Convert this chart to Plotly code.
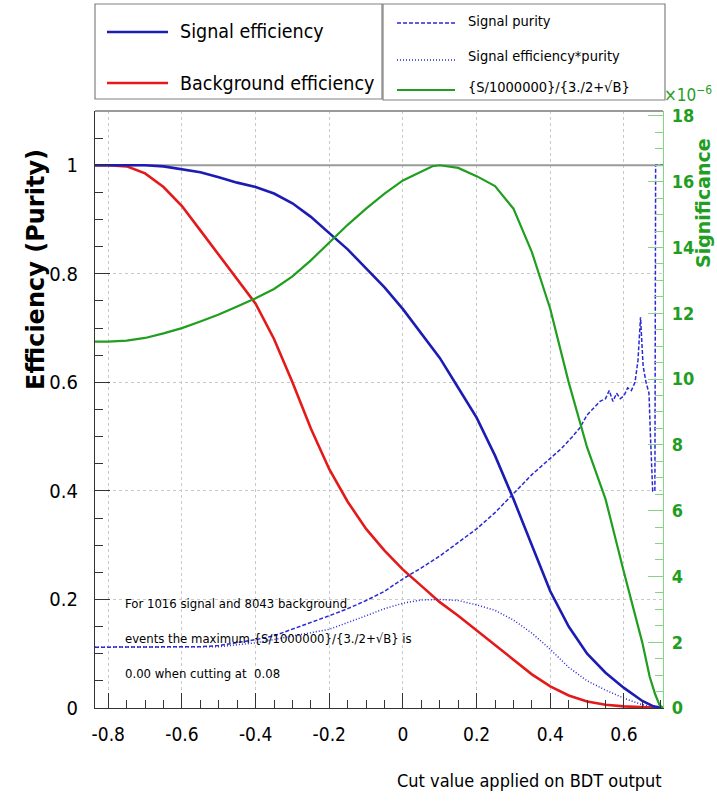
import plotly.graph_objects as go

# ---------------------------------------------------------------- data
# BDT cut values and the efficiency curves evaluated at them
cut_eff = [-0.836, -0.8, -0.75, -0.7, -0.65, -0.6, -0.55, -0.5, -0.45, -0.4,
           -0.35, -0.3, -0.25, -0.2, -0.15, -0.1, -0.05, 0.0, 0.05, 0.1,
           0.15, 0.2, 0.25, 0.3, 0.35, 0.4, 0.45, 0.5, 0.55, 0.6,
           0.65, 0.68, 0.706]
sig_eff = [1.0, 1.0, 1.0, 1.0, 0.998, 0.993, 0.987, 0.978, 0.968, 0.96,
           0.948, 0.93, 0.905, 0.875, 0.845, 0.81, 0.775, 0.735, 0.69, 0.645,
           0.59, 0.535, 0.465, 0.385, 0.3, 0.215, 0.15, 0.1, 0.065, 0.037,
           0.013, 0.003, 0.0]
bkg_eff = [1.0, 1.0, 0.998, 0.985, 0.96, 0.925, 0.88, 0.835, 0.79, 0.745,
           0.68, 0.6, 0.515, 0.44, 0.38, 0.33, 0.29, 0.255, 0.225, 0.195,
           0.17, 0.143, 0.117, 0.09, 0.062, 0.04, 0.023, 0.012, 0.006, 0.003,
           0.001, 0.0, 0.0]

# signal purity (noisy at the high-cut end where few events remain)
cut_pur = [-0.836, -0.7, -0.6, -0.55, -0.5, -0.45, -0.4, -0.35, -0.3, -0.25,
           -0.2, -0.15, -0.1, -0.05, 0.0, 0.05, 0.1, 0.15, 0.2, 0.25,
           0.3, 0.35, 0.4, 0.43, 0.46, 0.48, 0.5, 0.52, 0.535, 0.55,
           0.56, 0.57, 0.58, 0.59, 0.6, 0.61, 0.62, 0.63, 0.638, 0.645,
           0.652, 0.66, 0.668, 0.672, 0.678, 0.684, 0.686, 0.706]
sig_pur = [0.112, 0.112, 0.112, 0.113, 0.115, 0.12, 0.126, 0.133, 0.145, 0.157,
           0.17, 0.183, 0.198, 0.215, 0.238, 0.258, 0.28, 0.305, 0.33, 0.36,
           0.395, 0.43, 0.46, 0.478, 0.5, 0.516, 0.54, 0.555, 0.565, 0.57,
           0.585, 0.565, 0.58, 0.57, 0.575, 0.59, 0.585, 0.6, 0.64, 0.72,
           0.63, 0.6, 0.58, 0.5, 0.4, 0.4, 1.0, 1.0]

# signal efficiency * purity
cut_ep = [-0.836, -0.6, -0.5, -0.4, -0.3, -0.2, -0.1, -0.05, 0.0, 0.05,
          0.1, 0.15, 0.2, 0.25, 0.3, 0.35, 0.4, 0.45, 0.5,
          0.55, 0.6, 0.65, 0.69, 0.706]
sig_ep = [0.112, 0.112, 0.113, 0.12, 0.132, 0.145, 0.17, 0.183, 0.193, 0.199,
          0.2, 0.198, 0.19, 0.18, 0.162, 0.138, 0.108, 0.075, 0.05,
          0.033, 0.018, 0.006, 0.001, 0.0]

# significance S/1e6 / (3/2 + sqrt(B)), in units of 1e-6
cut_sig = [-0.836, -0.8, -0.75, -0.7, -0.65, -0.6, -0.55, -0.5, -0.45, -0.4,
           -0.35, -0.3, -0.25, -0.2, -0.15, -0.1, -0.05, 0.0, 0.05, 0.08,
           0.1, 0.15, 0.2, 0.25, 0.3, 0.35, 0.4, 0.45, 0.5, 0.55,
           0.6, 0.63, 0.65, 0.67, 0.685, 0.697, 0.706]
significance = [11.14, 11.14, 11.17, 11.25, 11.39, 11.55, 11.75, 11.96, 12.21, 12.46,
                12.74, 13.12, 13.61, 14.16, 14.69, 15.18, 15.64, 16.04, 16.30, 16.47,
                16.5, 16.42, 16.17, 15.87, 15.18, 13.86, 12.13, 9.9, 7.92, 6.35,
                4.13, 2.8, 1.98, 0.94, 0.41, 0.08, 0.0]

x_tick_vals = [-0.8, -0.6, -0.4, -0.2, 0.0, 0.2, 0.4, 0.6]
x_tick_text = ["-0.8", "-0.6", "-0.4", "-0.2", "0", "0.2", "0.4", "0.6"]
y_tick_vals = [0, 0.2, 0.4, 0.6, 0.8, 1.0]
y_tick_text = ["0", "0.2", "0.4", "0.6", "0.8", "1"]
y2_tick_vals = [0, 2, 4, 6, 8, 10, 12, 14, 16, 18]

x_range = [-0.836, 0.706]
y_range = [0, 1.1]
y2_range = [0, 18.15]

# ---------------------------------------------------------------- style
W, H = 717, 804
X0, X1, Y0, Y1 = 95, 663, 111, 708     # frame in pixels (left, right, top, bottom)

NARROW = "DejaVu Sans Condensed, Liberation Sans, sans-serif"
WIDE = "DejaVu Sans, Verdana, sans-serif"

BLUE = "#1c1cb4"
BLUE_L = "#2a2ad2"
RED = "#e41a1a"
GREEN = "#1f9e1f"
GREEN_TICK = "#86d386"
GRID = "#c8c8c8"


def px(x):
    return (x - X0) / (X1 - X0)


def py(y):
    return (Y1 - y) / (Y1 - Y0)


fig = go.Figure()

fig.add_trace(go.Scatter(x=cut_eff, y=bkg_eff, name="Background efficiency",
                         mode="lines", line=dict(color=RED, width=2.6)))
fig.add_trace(go.Scatter(x=cut_eff, y=sig_eff, name="Signal efficiency",
                         mode="lines", line=dict(color=BLUE, width=2.6)))
fig.add_trace(go.Scatter(x=cut_pur, y=sig_pur, name="Signal purity",
                         mode="lines", line=dict(color=BLUE_L, width=1.5, dash="4px,2px")))
fig.add_trace(go.Scatter(x=cut_ep, y=sig_ep, name="Signal efficiency*purity",
                         mode="lines", line=dict(color=BLUE_L, width=1.5, dash="1px,2px")))
fig.add_trace(go.Scatter(x=cut_sig, y=significance, name="{S/1000000}/{3./2+√B}",
                         mode="lines", line=dict(color=GREEN, width=2.2), yaxis="y2"))

shapes = []
# reference line at efficiency 1
shapes.append(dict(type="line", xref="x", yref="y", x0=x_range[0], x1=x_range[1],
                   y0=1, y1=1, line=dict(color="#9a9a9a", width=2.2), layer="between"))
# top edge of the frame
shapes.append(dict(type="line", xref="paper", yref="paper", x0=0, x1=1, y0=1, y1=1,
                   line=dict(color="#9a9a9a", width=2)))

# legend boxes
for (bx0, bx1, by0, by1) in [(95, 382, 4, 99), (383, 665, 4, 100)]:
    shapes.append(dict(type="rect", xref="paper", yref="paper",
                       x0=px(bx0), x1=px(bx1), y0=py(by1), y1=py(by0),
                       line=dict(color="#808080", width=1.2), fillcolor="white"))

legend_rows = [
    (107, 168, 32, dict(color=BLUE, width=2.6)),
    (107, 168, 83, dict(color=RED, width=2.6)),
    (397, 455, 23, dict(color=BLUE_L, width=1.5, dash="4px,2px")),
    (397, 455, 60, dict(color=BLUE_L, width=1.5, dash="1px,2px")),
    (397, 455, 90, dict(color=GREEN, width=2.2)),
]
for (lx0, lx1, ly, ln) in legend_rows:
    shapes.append(dict(type="line", xref="paper", yref="paper",
                       x0=px(lx0), x1=px(lx1), y0=py(ly), y1=py(ly), line=ln))

annotations = []


def text(x, y, s, size, family=NARROW, color="black", xanchor="left", angle=0):
    annotations.append(dict(xref="paper", yref="paper", x=px(x), y=py(y), text=s,
                            showarrow=False, xanchor=xanchor, yanchor="middle",
                            textangle=angle,
                            font=dict(family=family, size=size, color=color)))


text(178, 31, "Signal efficiency", 19.5)
text(178, 83, "Background efficiency", 19.5)
text(466, 21, "Signal purity", 14.5)
text(466, 56, "Signal efficiency*purity", 14.5)
text(466, 87, "{S/1000000}/{3./2+√B}", 14.5)

text(123, 603, "For 1016 signal and 8043 background", 13)
text(123, 638, "events the maximum {S/1000000}/{3./2+√B} is", 13)
text(123, 673, "0.00 when cutting at  0.08", 13)

text(662, 94, "×10<sup>−6</sup>", 17, color=GREEN)

text(664, 780, "Cut value applied on BDT output", 18, xanchor="right")
text(36, 270, "<b>Efficiency (Purity)</b>", 24, family=WIDE, xanchor="center", angle=-90)
text(703, 203, "<b>Significance</b>", 19, family=WIDE, color=GREEN, xanchor="center", angle=-90)

fig.update_layout(
    width=W, height=H,
    margin=dict(l=X0, r=W - X1, t=Y0, b=H - Y1, pad=0, autoexpand=False),
    paper_bgcolor="white", plot_bgcolor="white",
    showlegend=False,
    shapes=shapes, annotations=annotations,
    xaxis=dict(range=x_range, tickvals=x_tick_vals, ticktext=x_tick_text,
               ticks="inside", ticklen=15, tickwidth=1, tickcolor="#333",
               minor=dict(dtick=0.05, tick0=0, ticks="inside", ticklen=8, tickcolor="#333",
                          showgrid=False),
               showline=True, linecolor="#333", linewidth=1.2, mirror=False,
               showgrid=True, gridcolor=GRID, griddash="dot", gridwidth=1,
               zeroline=False, ticklabelstandoff=9,
               tickfont=dict(family=NARROW, size=19, color="black")),
    yaxis=dict(range=y_range, tickvals=y_tick_vals, ticktext=y_tick_text,
               ticks="inside", ticklen=15, tickwidth=1, tickcolor="#333",
               minor=dict(dtick=0.05, tick0=0, ticks="inside", ticklen=8, tickcolor="#333",
                          showgrid=False),
               showline=True, linecolor="#333", linewidth=1.2,
               showgrid=True, gridcolor=GRID, griddash="dot", gridwidth=1,
               zeroline=False, ticklabelstandoff=12,
               tickfont=dict(family=NARROW, size=20, color="black")),
    yaxis2=dict(range=y2_range, tickvals=y2_tick_vals, overlaying="y", side="right",
                anchor="x", ticks="inside", ticklen=15, tickwidth=1.2, tickcolor=GREEN_TICK,
                minor=dict(dtick=0.5, tick0=0, ticks="inside", ticklen=8, tickcolor=GREEN_TICK),
                showline=True, linecolor=GREEN_TICK, linewidth=1.2,
                showgrid=False, zeroline=False, ticklabelstandoff=4,
                tickfont=dict(family=NARROW, size=18, color=GREEN, weight="bold")),
)

fig.write_html("out.html")
